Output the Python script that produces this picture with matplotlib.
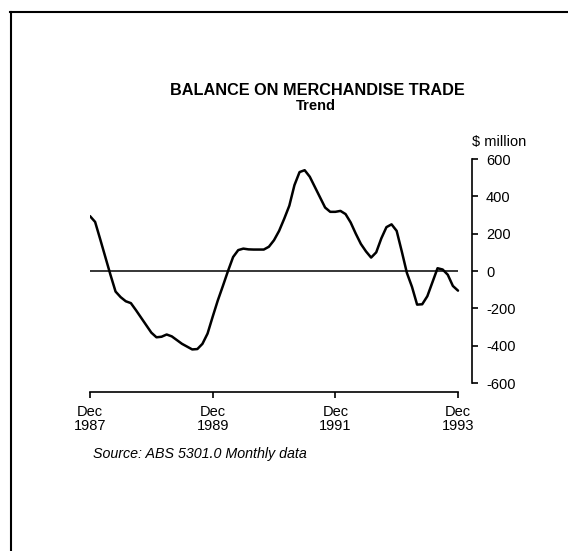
import matplotlib
matplotlib.use("Agg")
import matplotlib.pyplot as plt
from matplotlib.lines import Line2D

plt.rcParams['font.family'] = ['Liberation Sans', 'DejaVu Sans']
plt.rcParams['axes.unicode_minus'] = False

# Monthly trend values, $ million, Dec 1987 (index 0) to Dec 1993 (index 72)
balance = [294, 263, 170, 75, -20, -110, -140, -162, -172, -210,
           -250, -290, -330, -355, -352, -340, -350, -370, -390, -405,
           -420, -418, -390, -335, -245, -158, -80, 0, 75, 112,
           120, 116, 115, 115, 115, 130, 165, 215, 280, 350,
           460, 530, 540, 505, 450, 395, 340, 317, 317, 322,
           305, 260, 200, 145, 105, 72, 100, 175, 235, 250,
           215, 105, -10, -85, -180, -178, -135, -60, 15, 8,
           -20, -80, -105]
months = list(range(len(balance)))

x_tick_pos = [0, 24, 48, 72]
x_tick_labels = ["Dec\n1987", "Dec\n1989", "Dec\n1991", "Dec\n1993"]
y_ticks = [-600, -400, -200, 0, 200, 400, 600]
y_tick_labels = ["-600", "-400", "-200", "0", "200", "400", "600"]

W, H = 568, 551
fig = plt.figure(figsize=(W / 100, H / 100), dpi=100)

# axes box: x from 90px to 472px, y from 159px (600) to 392px (bottom)
ax = fig.add_axes([90 / W, 1 - 392 / H, (472 - 90) / W, (392 - 159) / H])
ax.set_xlim(0, 74.74)
ax.set_ylim(-648, 600)

ax.plot(months, balance, color='black', lw=1.8, solid_joinstyle='round',
        solid_capstyle='round')
ax.hlines(0, months[0], months[-1], color='black', lw=1.1)

for s in ['top', 'left']:
    ax.spines[s].set_visible(False)
ax.spines['right'].set_bounds(-600, 600)
ax.spines['bottom'].set_bounds(0, 72)
ax.spines['right'].set_linewidth(1.2)
ax.spines['bottom'].set_linewidth(1.2)

ax.yaxis.tick_right()
ax.set_yticks(y_ticks)
ax.set_yticklabels(y_tick_labels, ha='left')
ax.tick_params(axis='y', direction='out', length=4, width=1.2, pad=6,
               labelsize=10.5)
ax.set_xticks(x_tick_pos)
ax.set_xticklabels(x_tick_labels, linespacing=1.05)
ax.tick_params(axis='x', direction='out', length=4, width=1.2, pad=5,
               labelsize=10.5)

fig.text(472 / W, 1 - 146 / H, "$ million", ha='left', va='baseline',
         fontsize=10.5)
fig.text(317 / W, 1 - 95 / H, "BALANCE ON MERCHANDISE TRADE", ha='center',
         va='baseline', fontsize=11.7, fontweight='bold')
fig.text(316 / W, 1 - 110 / H, "Trend", ha='center', va='baseline',
         fontsize=10.5, fontweight='bold')
fig.text(93 / W, 1 - 454 / H, "Source: ABS 5301.0 Monthly data", ha='left',
         va='center', fontsize=10.3, style='italic')

# page frame (top and left edges)
fig.add_artist(Line2D([10 / W, 1], [1 - 12 / H, 1 - 12 / H], color='black',
                      lw=1.5, transform=fig.transFigure))
fig.add_artist(Line2D([11 / W, 11 / W], [1 - 12 / H, 0], color='black',
                      lw=1.5, transform=fig.transFigure))

fig.savefig("out.png", dpi=100)
